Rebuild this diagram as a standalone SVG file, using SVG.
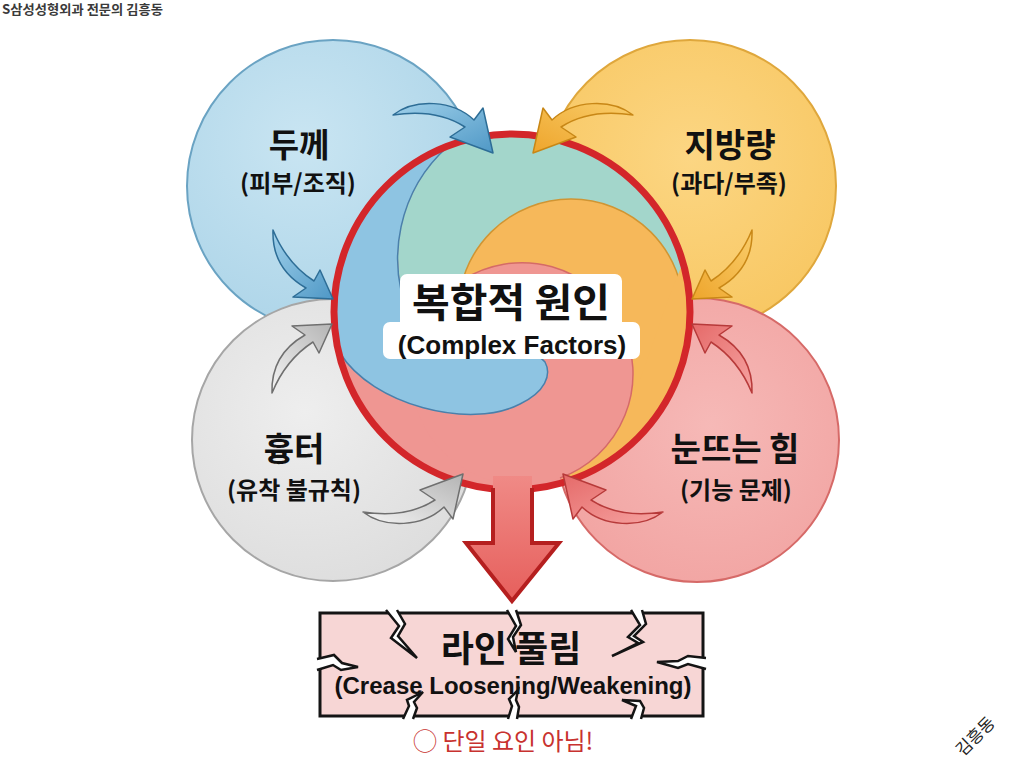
<svg xmlns="http://www.w3.org/2000/svg" width="1024" height="765" viewBox="0 0 1024 765">
<defs>
<style>
.kr{font-family:"Noto Sans CJK KR","Noto Sans",sans-serif;}
.en{font-family:"Liberation Sans",Arial,sans-serif;}
.title{font-size:33px;font-weight:700;fill:#111;text-anchor:middle;}
.sub{font-size:24px;font-weight:700;fill:#111;text-anchor:middle;}
.arr{stroke-width:1.5;stroke-linejoin:round;}
.a-blue{fill:url(#gArrBlue);stroke:#2d6d96;}
.a-orange{fill:url(#gArrOrange);stroke:#c88716;}
.a-gray{fill:url(#gArrGray);stroke:#6f6f6f;}
.a-red{fill:url(#gArrRed);stroke:#b73a3a;}
.crack{fill:#ffffff;stroke:#141414;stroke-width:2.5;stroke-linejoin:miter;}
</style>
<radialGradient id="gBlue" cx="0.4" cy="0.35" r="0.7"><stop offset="0" stop-color="#c9e5f2"/><stop offset="1" stop-color="#acd4e8"/></radialGradient>
<radialGradient id="gOrange" cx="0.5" cy="0.4" r="0.7"><stop offset="0" stop-color="#fcd683"/><stop offset="1" stop-color="#f7c55e"/></radialGradient>
<radialGradient id="gGray" cx="0.4" cy="0.4" r="0.7"><stop offset="0" stop-color="#eeeeee"/><stop offset="1" stop-color="#dcdcdc"/></radialGradient>
<radialGradient id="gRed" cx="0.55" cy="0.45" r="0.7"><stop offset="0" stop-color="#f6b9b7"/><stop offset="1" stop-color="#f1a19f"/></radialGradient>
<linearGradient id="gArrBlue" x1="0" y1="0" x2="1" y2="1"><stop offset="0" stop-color="#9fd0ea"/><stop offset="1" stop-color="#4f98c6"/></linearGradient>
<linearGradient id="gArrOrange" x1="0" y1="0" x2="1" y2="1"><stop offset="0" stop-color="#f9cd6a"/><stop offset="1" stop-color="#eea52c"/></linearGradient>
<linearGradient id="gArrGray" x1="0" y1="0" x2="1" y2="1"><stop offset="0" stop-color="#f4f4f4"/><stop offset="1" stop-color="#b4b4b4"/></linearGradient>
<linearGradient id="gArrRed" x1="0" y1="0" x2="1" y2="1"><stop offset="0" stop-color="#f6a3a1"/><stop offset="1" stop-color="#e56a69"/></linearGradient>
<linearGradient id="gDown" x1="0" y1="0" x2="0" y2="1"><stop offset="0" stop-color="#f08a86"/><stop offset="1" stop-color="#e65f5c"/></linearGradient>
<clipPath id="cc"><circle cx="512" cy="312" r="178"/></clipPath>
<path id="arrA" d="M 0,0 C 22,-17 60,-15 81,5 L 90,-7 L 100,38 L 57,22 L 72,12 C 52,-1 26,-4 0,0 Z"/>
<path id="arrB" d="M 0,0 C -1,28 12,46 33,58 L 20,67 L 60,69 L 47,40 L 41,51 C 24,40 9,22 0,0 Z"/>
</defs>
<rect width="1024" height="765" fill="#ffffff"/>

<text class="kr" x="2" y="14" font-size="13" font-weight="700" fill="#3a3a3a" textLength="161" lengthAdjust="spacingAndGlyphs">S삼성성형외과 전문의 김흥동</text>

<g id="node-thickness">
<circle cx="333" cy="186" r="146" fill="url(#gBlue)" stroke="#6aa3c3" stroke-width="2"/>
<text class="kr title" x="299" y="157">두께</text>
<text class="kr sub" x="298" y="192">(피부/조직)</text>
</g>
<g id="node-fat">
<circle cx="690" cy="186" r="146" fill="url(#gOrange)" stroke="#dfa73c" stroke-width="2"/>
<text class="kr title" x="730" y="157">지방량</text>
<text class="kr sub" x="729" y="192">(과다/부족)</text>
</g>
<g id="node-scar">
<circle cx="333" cy="440" r="141" fill="url(#gGray)" stroke="#a6a6a6" stroke-width="2"/>
<text class="kr title" x="294" y="461">흉터</text>
<text class="kr sub" x="294" y="499">(유착 불규칙)</text>
</g>
<g id="node-eyeopen">
<circle cx="697" cy="440" r="142" fill="url(#gRed)" stroke="#d66a68" stroke-width="2"/>
<text class="kr title" x="735" y="461">눈뜨는 힘</text>
<text class="kr sub" x="736" y="499">(기능 문제)</text>
</g>

<g id="node-center">
<g clip-path="url(#cc)">
<circle cx="512" cy="312" r="178" fill="#ef9692"/>
<circle cx="548" cy="258" r="150" fill="#a3d6cb"/>
<circle cx="571" cy="312" r="113" fill="#f6b85a" stroke="#d09533" stroke-width="1.5"/>
<path d="M 683,262 A 178 178 0 0 1 556,484 L 600,445 L 640,380 L 668,300 Z" fill="#f6b85a"/>
<circle cx="522" cy="374" r="111" fill="#ef9692"/>
<path d="M 462.5,280 A 111 111 0 1 1 560,478" fill="none" stroke="#d56a68" stroke-width="1.5"/>
<path d="M 448.6,145.7 A 178 178 0 0 0 340,353 C 372,405 470,430 520,404 C 545,392 552,375 545,362 C 530,345 470,335 411,320 A 150 150 0 0 1 448.6,145.7 Z" fill="#8ec4e2" stroke="#4a80ab" stroke-width="1.5"/>
</g>
<circle cx="512" cy="312" r="178" fill="none" stroke="#d3262a" stroke-width="7"/>
<rect x="400" y="274" width="222" height="56" rx="7" fill="#ffffff"/>
<rect x="383" y="322" width="257" height="37" rx="7" fill="#ffffff"/>
<text class="kr" x="511" y="317" font-size="40" font-weight="700" fill="#111" text-anchor="middle" textLength="198" lengthAdjust="spacingAndGlyphs">복합적 원인</text>
<text class="en" x="512" y="354" font-size="26" font-weight="700" fill="#111" text-anchor="middle">(Complex Factors)</text>
</g>

<g id="connectors">
<path d="M 493,476 L 493,543 L 466,543 L 512,601 L 559,543 L 532,543 L 532,476 Z" fill="url(#gDown)"/>
<path d="M 493,488 L 493,543 L 466,543 L 512,601 L 559,543 L 532,543 L 532,488" fill="none" stroke="#b51f1f" stroke-width="4" stroke-linejoin="miter"/>
<use href="#arrA" class="arr a-blue" transform="translate(393,115)"/>
<use href="#arrB" class="arr a-blue" transform="translate(273,230)"/>
<use href="#arrA" class="arr a-orange" transform="translate(633,115) scale(-1,1)"/>
<use href="#arrB" class="arr a-orange" transform="translate(752,230) scale(-1,1)"/>
<use href="#arrB" class="arr a-gray" transform="translate(272,393) scale(1,-1)"/>
<use href="#arrA" class="arr a-gray" transform="translate(363,512) scale(1,-1)"/>
<use href="#arrB" class="arr a-red" transform="translate(752,393) scale(-1,-1)"/>
<use href="#arrA" class="arr a-red" transform="translate(663,512) scale(-1,-1)"/>
</g>

<g id="node-result">
<rect x="320" y="613" width="383" height="103" fill="#f7d6d5" stroke="#141414" stroke-width="3"/>
<path class="crack" d="M 386,610 L 399,626 L 391,638 L 417,658 L 398,636 L 405,624 L 397,610"/>
<path class="crack" d="M 507,610 L 516,626 L 508,639 L 516,652 L 513,637 L 521,625 L 516,610"/>
<path class="crack" d="M 631,610 L 640,625 L 628,637 L 638,643 L 612,656 L 643,642 L 634,636 L 646,624 L 642,610"/>
<path class="crack" d="M 317,659 L 334,655 L 342,663 L 358,667 L 341,670 L 333,665 L 317,670"/>
<path class="crack" d="M 706,658 L 688,656 L 678,661 L 657,662 L 678,668 L 688,664 L 706,669"/>
<path class="crack" d="M 403,719 L 409,706 L 407,700 L 423,692 L 414,702 L 417,708 L 413,719"/>
<path class="crack" d="M 508,719 L 512,706 L 509,699 L 518,690 L 516,700 L 519,707 L 517,719"/>
<path class="crack" d="M 631,719 L 636,706 L 622,700 L 640,701 L 644,708 L 641,719"/>
<text class="kr" x="511" y="662" font-size="36" font-weight="700" fill="#111" text-anchor="middle">라인 풀림</text>
<text class="en" x="513" y="694" font-size="24" font-weight="700" fill="#111" text-anchor="middle">(Crease Loosening/Weakening)</text>
</g>

<text class="kr" x="413" y="750" font-size="24" fill="#c8322f">◯ 단일 요인 아님!</text>
<text class="kr" x="963" y="757" font-size="17" fill="#222" transform="rotate(-45 963 757)">김흥동</text>
</svg>
